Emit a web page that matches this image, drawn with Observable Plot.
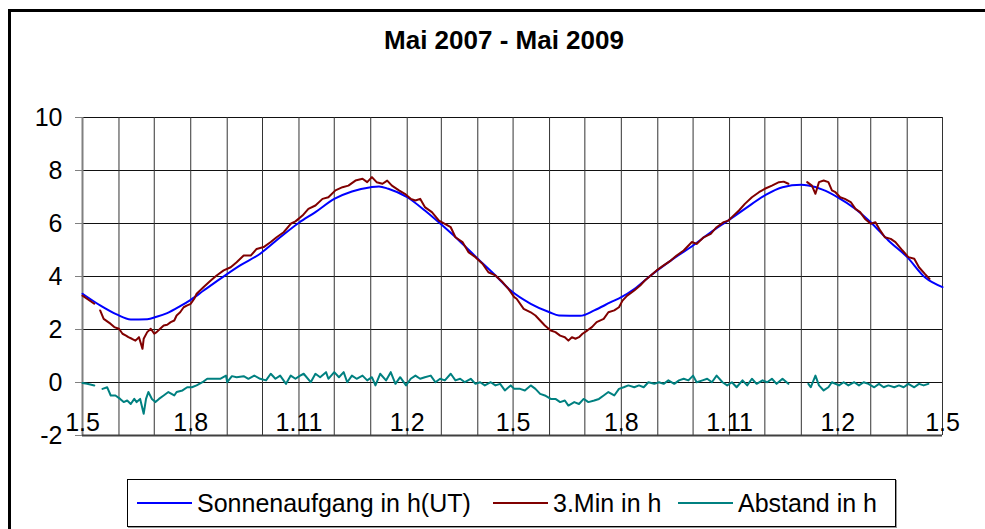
<!DOCTYPE html>
<html>
<head>
<meta charset="utf-8">
<script src="https://cdn.jsdelivr.net/npm/d3@7"></script>
<script src="https://cdn.jsdelivr.net/npm/@observablehq/plot@0.6"></script>
<style>
  body { margin: 0; background: #fff; font-family: "Liberation Sans", Arial, sans-serif; }
  #wrap { position: relative; width: 985px; height: 529px; overflow: hidden; background: #fff; }
  #frame { position: absolute; left: 8px; top: 9px; width: 1100px; height: 700px; border: 3px solid #000; box-sizing: border-box; }
  #title { position: absolute; left: 0; top: 25px; width: 1008px; text-align: center; font-size: 26px; line-height: 30px; font-weight: bold; color: #000; }
  #chart { position: absolute; left: 0; top: 100px; }
  #legend { position: absolute; left: 127px; top: 479px; width: 769px; height: 48px; border: 1px solid #000; box-sizing: border-box; background: #fff; box-shadow: 1px 1px 0 #999; }
  .item { position: absolute; top: 0; height: 46px; display: flex; align-items: center; font-size: 25px; color: #000; white-space: nowrap; }
  .swatch { width: 55px; height: 2px; margin-right: 5px; }
</style>
</head>
<body>
<div id="wrap">
  <div id="frame"></div>
  <div id="title"></div>
  <div id="chart"></div>
  <div id="legend"></div>
</div>
<script>
const titleText = "Mai 2007 - Mai 2009";
const seriesNames = ["Sonnenaufgang in h(UT)", "3.Min in h", "Abstand in h"];
const seriesColors = ["#0000ff", "#800000", "#008080"];
const startDate = "2007-05-01";
const endDate = "2009-05-01";
const yTicks = [-2, 0, 2, 4, 6, 8, 10];
const xTickLabels = ["1.5", "1.8", "1.11", "1.2", "1.5", "1.8", "1.11", "1.2", "1.5"];

// day offsets from 1 May 2007 and values (hours)
const sunriseDays = [0,15,29,41,55,63,72,83,92,103,117,134,151,168,184,198,214,229,245,252,260,276,291,306,320,336,351,364,381,397,405,423,435,449,458,469,483,500,519,534,549,563,580,595,611,617,629,642,657,670,685,701,716,731];
const sunriseValues = [3.35,2.91,2.57,2.38,2.39,2.48,2.62,2.88,3.12,3.47,3.91,4.42,4.86,5.48,6.03,6.43,6.93,7.21,7.37,7.40,7.31,6.99,6.49,5.92,5.36,4.67,4.04,3.47,2.97,2.65,2.53,2.52,2.72,3.03,3.22,3.53,4.04,4.60,5.17,5.67,6.12,6.55,7.06,7.37,7.46,7.43,7.28,6.99,6.55,6.05,5.36,4.73,3.97,3.60];

const min3Days = [0,10,12,15,18,24,27,31,34,37,39,42,45,48,51,52,55,58,61,63,66,69,72,75,78,80,83,86,89,92,95,97,103,109,114,120,126,131,137,143,148,154,160,165,171,177,181,187,192,198,204,209,215,221,226,232,238,242,246,250,255,259,263,269,274,279,283,287,291,297,303,308,313,317,323,328,334,340,345,351,357,362,364,367,369,375,381,385,389,393,398,402,406,410,413,416,419,422,425,429,433,437,443,447,452,456,459,463,469,474,478,483,488,494,500,505,511,518,522,528,534,539,545,549,552,558,563,569,575,580,586,592,596,600,608,616,620,623,626,630,634,637,640,644,648,653,657,661,665,670,674,678,682,687,691,697,702,707,711,716,720];
const min3Values = [3.28,2.97,null,2.72,2.40,2.21,2.09,2.03,1.84,1.77,1.71,1.65,1.58,1.71,1.27,1.65,1.90,2.03,1.84,1.90,2.03,2.15,2.18,2.28,2.34,2.53,2.65,2.84,2.91,2.97,3.16,3.35,3.60,3.85,4.04,4.23,4.35,4.54,4.79,4.79,5.04,5.11,5.30,5.48,5.67,5.99,6.08,6.30,6.55,6.68,6.93,6.99,7.25,7.37,7.43,7.62,7.69,7.56,7.75,7.56,7.50,7.62,7.43,7.25,7.12,6.93,6.87,6.93,6.62,6.43,6.11,5.99,5.86,5.48,5.30,4.92,4.73,4.48,4.16,4.04,3.79,3.53,3.41,3.22,3.16,2.78,2.65,2.53,2.34,2.15,1.96,1.90,1.77,1.71,1.58,1.71,1.65,1.71,1.84,1.96,2.09,2.28,2.40,2.65,2.72,2.84,3.09,3.28,3.47,3.66,3.85,4.04,4.23,4.42,4.60,4.79,4.98,5.30,5.23,5.48,5.61,5.86,6.05,6.11,6.24,6.49,6.74,6.99,7.18,7.31,7.43,7.56,7.58,7.50,null,7.56,7.43,7.12,7.56,7.62,7.56,7.25,7.18,6.99,6.93,6.81,6.55,6.43,6.18,5.99,6.05,5.74,5.48,5.42,5.30,4.98,4.73,4.67,4.35,4.10,3.91];

const abstandDays = [0,4,10,13,17,21,24,28,32,35,38,41,44,46,49,52,54,56,59,62,65,69,73,78,80,85,89,93,97,102,106,112,117,122,123,127,131,137,141,146,151,156,160,164,168,173,177,181,185,188,194,198,202,207,209,214,218,222,225,229,233,238,242,246,249,253,258,262,266,270,275,279,283,287,291,296,300,304,308,313,317,321,325,330,334,338,342,347,351,355,359,364,367,372,376,381,385,389,393,398,402,406,410,413,418,422,426,430,435,439,443,447,452,456,460,464,469,473,477,481,486,490,494,498,503,507,511,515,519,522,527,531,535,539,544,548,552,556,561,565,569,573,578,582,586,590,595,600,608,617,619,623,626,630,634,637,643,647,651,656,660,664,668,673,677,681,685,690,694,698,702,707,711,715,719];
const abstandValues = [-0.02,-0.05,-0.11,null,-0.24,-0.18,-0.49,-0.49,-0.62,-0.74,-0.68,-0.81,-0.62,-0.74,-0.62,-1.18,-0.62,-0.36,-0.62,-0.74,-0.62,-0.49,-0.36,-0.49,-0.36,-0.30,-0.18,-0.18,-0.11,0.01,0.14,0.14,0.14,0.26,0.01,0.24,0.20,0.24,0.14,0.26,0.14,0.08,0.33,0.14,0.26,-0.05,0.26,0.14,0.26,0.33,0.01,0.33,0.20,0.39,0.14,0.39,0.20,0.39,0.01,0.26,0.14,0.26,0.08,0.20,-0.11,0.33,0.08,0.39,-0.05,0.20,-0.11,0.14,0.26,0.14,0.20,0.26,0.01,0.14,0.08,0.33,0.08,0.14,0.01,0.14,-0.05,0.01,-0.11,0.01,-0.11,-0.05,-0.30,-0.11,-0.24,-0.24,-0.30,-0.11,-0.24,-0.43,-0.49,-0.62,-0.62,-0.74,-0.68,-0.87,-0.74,-0.81,-0.62,-0.74,-0.68,-0.62,-0.49,-0.36,-0.49,-0.24,-0.18,-0.11,-0.18,-0.11,-0.18,0.01,-0.05,0.01,-0.05,0.08,-0.05,0.08,0.14,0.08,0.26,0.01,0.08,0.14,0.01,0.26,0.01,-0.11,0.01,-0.18,0.08,-0.11,0.14,-0.05,0.08,0.01,0.14,-0.05,0.14,-0.05,null,-0.05,-0.18,0.26,-0.11,-0.30,-0.18,0.01,-0.11,0.01,-0.11,0.01,-0.11,0.01,-0.05,-0.18,-0.05,-0.18,-0.11,-0.18,-0.11,-0.18,-0.05,-0.18,-0.05,-0.11,-0.05];

const start = new Date(startDate + "T00:00:00Z");
const end = new Date(endDate + "T00:00:00Z");
const toRows = (days, values) => days.map((d, i) => ({date: d3.utcDay.offset(start, d), value: values[i]}));
const sunrise = toRows(sunriseDays, sunriseValues);
const min3 = toRows(min3Days, min3Values);
const abstand = toRows(abstandDays, abstandValues);

const monthLines = d3.utcMonth.range(start, d3.utcDay.offset(end, 1));
const xTickDates = d3.utcMonth.range(start, d3.utcDay.offset(end, 1), 3);
const xTicks = xTickDates.map((d, i) => ({date: d, label: xTickLabels[i]}));

document.getElementById("title").textContent = titleText;

const chart = Plot.plot({
  width: 985,
  height: 350,
  marginLeft: 82,
  marginRight: 43,
  marginTop: 17,
  marginBottom: 15,
  style: {fontFamily: "'Liberation Sans', Arial, sans-serif", fontSize: "25px", color: "#000", background: "transparent", overflow: "visible"},
  x: {type: "utc", domain: [start, end], axis: null},
  y: {domain: [-2, 10], axis: null},
  marks: [
    Plot.ruleY(yTicks, {stroke: "#111", strokeWidth: 1}),
    Plot.ruleX(monthLines, {stroke: "#333", strokeWidth: 1}),
    Plot.ruleX([start], {stroke: "#808080", strokeWidth: 2}),
    Plot.ruleY([-2], {stroke: "#404040", strokeWidth: 2}),
    Plot.axisY({ticks: yTicks, label: null, tickSize: 7, tickPadding: 13, tickFormat: d => String(d), stroke: "#808080", fill: "#000", fontSize: 25}),
    Plot.line(sunrise, {x: "date", y: "value", stroke: seriesColors[0], strokeWidth: 2, curve: "monotone-x"}),
    Plot.line(min3, {x: "date", y: "value", stroke: seriesColors[1], strokeWidth: 2}),
    Plot.line(abstand, {x: "date", y: "value", stroke: seriesColors[2], strokeWidth: 2}),
    Plot.text(xTicks, {x: "date", y: () => -2, text: "label", dy: -13, fontSize: 25, fill: "#000", textAnchor: "middle", lineAnchor: "middle"})
  ]
});
document.getElementById("chart").appendChild(chart);

const legend = document.getElementById("legend");
const itemLefts = [9, 365, 550];
seriesNames.forEach((name, i) => {
  const item = document.createElement("div");
  item.className = "item";
  item.style.left = itemLefts[i] + "px";
  const sw = document.createElement("span");
  sw.className = "swatch";
  sw.style.background = seriesColors[i];
  const tx = document.createElement("span");
  tx.textContent = name;
  item.appendChild(sw);
  item.appendChild(tx);
  legend.appendChild(item);
});
</script>
</body>
</html>
